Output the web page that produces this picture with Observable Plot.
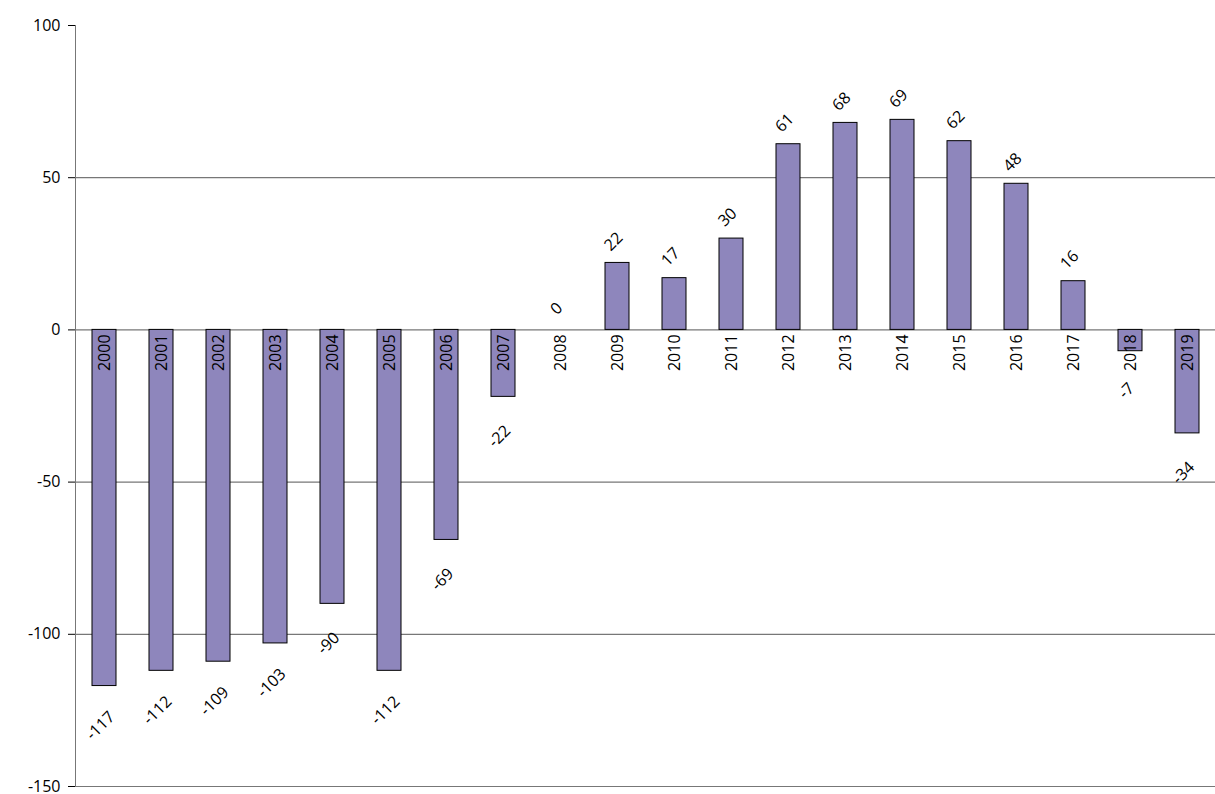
<!DOCTYPE html>
<html><head><meta charset="utf-8">
<script src="https://cdn.jsdelivr.net/npm/d3@7"></script>
<script src="https://cdn.jsdelivr.net/npm/@observablehq/plot@0.6"></script>
<style>body{margin:0;background:#fff}</style>
</head><body><div id="chart"></div>
<script>
const years = ['2000','2001','2002','2003','2004','2005','2006','2007','2008','2009','2010','2011','2012','2013','2014','2015','2016','2017','2018','2019']
const values = [-117,-112,-109,-103,-90,-112,-69,-22,0,22,17,30,61,68,69,62,48,16,-7,-34]
const yTicks = [100, 50, 0, -50, -100, -150]

const data = years.map((y, i) => ({year: y, value: values[i]}))
const font = 'Open Sans, Liberation Sans, sans-serif'

const chart = Plot.plot({
  width: 1215, height: 794,
  marginLeft: 75, marginRight: 0, marginTop: 25, marginBottom: 8,
  style: {fontFamily: font, fontSize: '16px', color: '#000', overflow: 'visible'},
  x: {domain: years, paddingInner: 0.58, paddingOuter: 0.29, axis: null},
  y: {domain: [-150, 100], ticks: yTicks, tickFormat: d => String(d), label: null, tickSize: 7, tickPadding: 8},
  marks: [
    Plot.ruleY(yTicks.filter(d => d < 100), {stroke: '#777', strokeWidth: 1.2}),
    Plot.frame({anchor: 'left', stroke: '#777'}),
    Plot.barY(data, {x: 'year', y: 'value', fill: '#8e86bc', stroke: '#000', strokeWidth: 1}),
    Plot.text(data, {x: 'year', y: () => -1.5, text: 'year', rotate: -90, textAnchor: 'end', fontSize: 16}),
    Plot.text(data, {x: 'year', y: d => d.value >= 0 ? d.value + 7 : d.value - 13, text: d => String(d.value), rotate: -45, fontSize: 16, dx: -4})
  ]
})
document.getElementById('chart').append(chart)
</script></body></html>
